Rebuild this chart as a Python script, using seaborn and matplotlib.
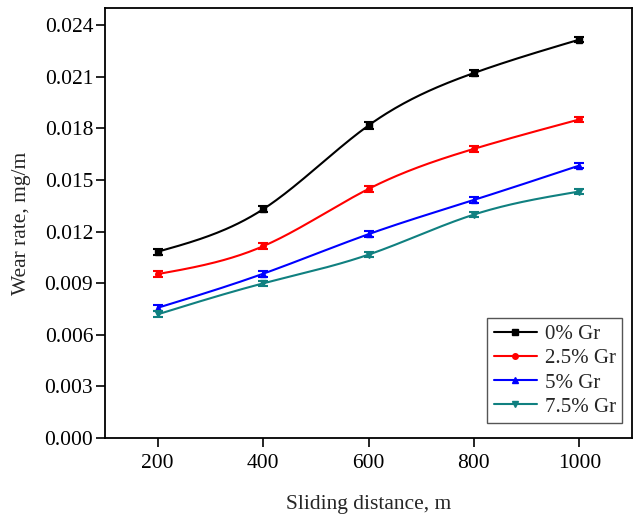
import numpy as np
import pandas as pd
import matplotlib
matplotlib.use("Agg")
import matplotlib.pyplot as plt
import seaborn as sns

distance = [200, 400, 600, 800, 1000]
series_names = ["0% Gr", "2.5% Gr", "5% Gr", "7.5% Gr"]
wear_0 = [0.01083, 0.01330, 0.01817, 0.02122, 0.02316]
wear_25 = [0.00953, 0.01115, 0.01448, 0.01681, 0.01852]
wear_5 = [0.00757, 0.00955, 0.01185, 0.01384, 0.01584]
wear_75 = [0.00719, 0.00899, 0.01066, 0.01299, 0.01433]
err_0 = [0.00018, 0.00018, 0.00018, 0.00016, 0.00016]
err_25 = [0.00016, 0.00016, 0.00016, 0.00016, 0.00016]
err_5 = [0.00018, 0.00018, 0.00016, 0.00016, 0.00016]
err_75 = [0.00018, 0.00016, 0.00016, 0.00016, 0.00016]

colors = ["#000000", "#FF0000", "#0000FF", "#108080"]
markers = ["s", "o", "^", "v"]

sns.set_theme(style="ticks")
plt.rcParams["font.family"] = ["Liberation Serif", "DejaVu Serif"]
plt.rcParams["mathtext.fontset"] = "stix"


def natural_spline(x, y, n=200):
    x = np.asarray(x, float)
    y = np.asarray(y, float)
    k = len(x)
    h = np.diff(x)
    A = np.zeros((k, k))
    b = np.zeros(k)
    A[0, 0] = 1
    A[-1, -1] = 1
    for i in range(1, k - 1):
        A[i, i - 1] = h[i - 1]
        A[i, i] = 2 * (h[i - 1] + h[i])
        A[i, i + 1] = h[i]
        b[i] = 6 * ((y[i + 1] - y[i]) / h[i] - (y[i] - y[i - 1]) / h[i - 1])
    M = np.linalg.solve(A, b)
    xs = np.linspace(x[0], x[-1], n)
    ys = np.empty_like(xs)
    for j, xv in enumerate(xs):
        i = min(np.searchsorted(x, xv, side="right") - 1, k - 2)
        t1 = x[i + 1] - xv
        t0 = xv - x[i]
        ys[j] = (M[i] * t1 ** 3 / (6 * h[i]) + M[i + 1] * t0 ** 3 / (6 * h[i])
                 + (y[i] / h[i] - M[i] * h[i] / 6) * t1
                 + (y[i + 1] / h[i] - M[i + 1] * h[i] / 6) * t0)
    return xs, ys


fig = plt.figure(figsize=(6.38, 5.15), dpi=100)
ax = fig.add_axes([0.1646, 0.1495, 0.826, 0.835])

all_wear = [wear_0, wear_25, wear_5, wear_75]
all_err = [err_0, err_25, err_5, err_75]
for name, w, e, c, m in zip(series_names, all_wear, all_err, colors, markers):
    xs, ys = natural_spline(distance, w)
    sns.lineplot(x=xs, y=ys, ax=ax, color=c, lw=1.5, legend=False)
    ax.errorbar(distance, w, yerr=e, fmt="none", ecolor=c, elinewidth=1.5,
                capsize=3.5, capthick=1.5)
    ax.plot(distance, w, linestyle="none", marker=m, color=c, markersize=4)
    ax.plot([], [], color=c, marker=m, markersize=4, lw=1.5, label=name)

ax.set_xlim(100, 1100)
ax.set_ylim(0, 0.025)
ax.set_xticks(distance)
ax.set_yticks(np.arange(0, 0.0241, 0.003))
ax.yaxis.set_major_formatter(matplotlib.ticker.FormatStrFormatter("%.3f"))
ax.tick_params(direction="out", length=6.5, width=1.2, labelsize=15.5, colors="black")
ax.tick_params(axis="y", pad=2)
ax.tick_params(axis="x", pad=5)
for s in ax.spines.values():
    s.set_linewidth(1.3)
    s.set_color("black")
ax.set_xlabel("Sliding distance, m", fontsize=15.5, labelpad=16)
ax.set_ylabel("Wear rate, mg/m", fontsize=15.5, labelpad=10)

leg = ax.legend(loc="lower right", bbox_to_anchor=(0.981, 0.035), fontsize=15,
                frameon=True, fancybox=False, framealpha=1, edgecolor="#555555",
                handlelength=2.1, handletextpad=0.35, borderpad=0.3,
                labelspacing=0.22, borderaxespad=0)
leg.get_frame().set_linewidth(1.0)

fig.savefig("out.png", dpi=100)
